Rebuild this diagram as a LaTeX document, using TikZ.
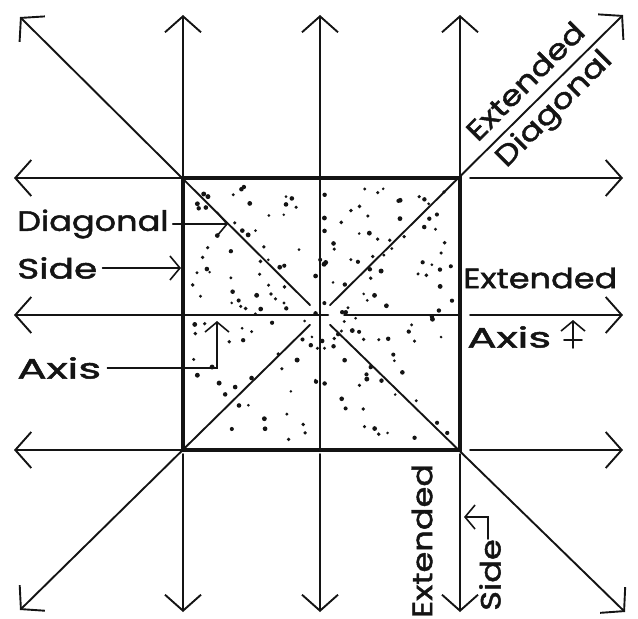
\documentclass[tikz,border=0pt]{standalone}
\usepackage{fontspec}
\setmainfont{Poppins}[FakeStretch=1.2,FakeBold=1.6]
\usepackage{tikz}
\usetikzlibrary{arrows.meta,calc,positioning}
\definecolor{ink}{HTML}{141414}

\begin{document}
\begin{tikzpicture}[x=1pt,y=-1pt,line cap=round,
  ext/.style={ink,line width=1.9pt,-{Straight Barb[length=16pt,width=36pt]}},
  lead/.style={ink,line width=1.6pt,-{Straight Barb[length=10pt,width=24pt]}},
  lbl/.style={text=ink,inner sep=0pt,font=\fontsize{28}{30}\selectfont}]
\useasboundingbox (0,0) rectangle (638,619);
\coordinate (nw) at (183,178); \coordinate (ne) at (460,178); \coordinate (se) at (460,450); \coordinate (sw) at (183,450); \coordinate (c) at (320,315);
\coordinate (n) at (320,178); \coordinate (s) at (320,450); \coordinate (w) at (183,315); \coordinate (e) at (460,315);
\foreach \p/\t in {nw/183,n/320,ne/460} {\draw[ext] (\p) -- (\t,15);}
\foreach \p/\t in {sw/183,s/320,se/460} {\draw[ext,shorten <=4pt] (\p) -- (\t,612);}
\foreach \p/\t in {nw/178,w/315,sw/450} {\draw[ext] (\p) -- (14,\t);}
\foreach \p/\t in {ne/178,e/315,se/450} {\draw[ext,shorten <=10pt] (\p) -- (623,\t);}
\draw[ext,shorten <=14pt] (c) -- (20,17);
\draw[ext,shorten <=14pt] (c) -- (623,15);
\draw[ext,shorten <=14pt] (c) -- (20,610);
\draw[ext,shorten <=14pt] (c) -- (625,612);
\draw[ink,line width=1.9pt] (n) -- (s) (w) -- ([xshift=6pt]c) ([xshift=24pt]c) -- (e);
\draw[ink,line width=2.6pt] ([xshift=-8pt]c) -- ([xshift=8pt]c) ([yshift=-8pt]c) -- ([yshift=8pt]c);
\draw[ink,line width=3.4pt,line cap=butt] (nw) rectangle (se);
\pgfmathsetseed{41}
\foreach \k in {1,...,190} {\pgfmathsetmacro\px{192+260*rnd}\pgfmathsetmacro\py{187+255*rnd}\pgfmathsetmacro\pr{1.4+1.1*rnd}\fill[ink] (\px,\py) circle (\pr pt);}
\node[lbl,anchor=west] (dlab) at (17,224) {Diagonal};
\node[lbl,anchor=west,xscale=1.12] (slab) at (17,268) {Side};
\node[lbl,anchor=west,xscale=1.3] (alab) at (17,368) {Axis};
\node[lbl,anchor=west] (extaxis) at (463,278) {Extended};
\node[lbl,anchor=west,xscale=1.3] (axislab) at (467,337) {Axis};
\node[lbl,rotate=45] (extdiag) at (525,81) {Extended};
\node[lbl,rotate=45] (diaglab) at (555,110) {Diagonal};
\node[lbl,rotate=90] (extside) at (422,541) {Extended};
\node[lbl,rotate=90] (sidelab) at (490,575) {Side};
\coordinate (dtip) at (228,224); \coordinate (stip) at (181,268); \coordinate (atip) at (217,321);
\coordinate (abend) at (217,368); \coordinate (xtip) at (573,320); \coordinate (xfoot) at (573,348);
\coordinate (sbend) at (495,517); \coordinate (sstip) at (464,517);
\draw[lead] ([xshift=4pt]dlab.east) -- (dtip);
\draw[lead] ([xshift=5pt]slab.east) -- (stip);
\draw[lead] ([xshift=6pt]alab.east) -- (abend) -- (atip);
\draw[lead] (xfoot) -- (xtip);
\draw[ink,line width=1.6pt] (564,340) -- (582,340);
\draw[lead] ([xshift=-2pt]sidelab.east) |- (sstip);
\end{tikzpicture}
\end{document}
